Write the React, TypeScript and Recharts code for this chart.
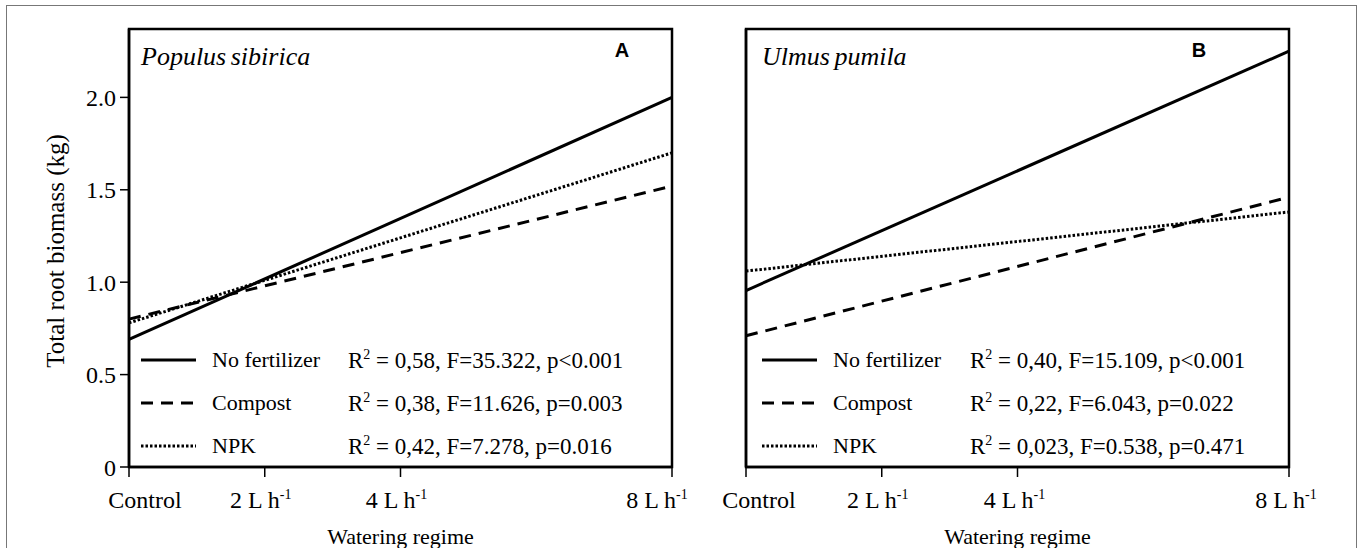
import { LineChart, Line, XAxis, YAxis, ReferenceArea, Label } from 'recharts';

const SERIF = '"Liberation Serif", "Times New Roman", serif';
const SANS = '"Liberation Sans", Arial, sans-serif';

// watering regime in L/h (Control = 0), regression lines drawn at the ends
const waterX = [0, 8];
const xTicks = [0, 2, 4, 8];
const xTickText = ['Control', '2 L h', '4 L h', '8 L h'];
const xTickSup = ['', '-1', '-1', '-1'];
const yTicks = [0, 0.5, 1, 1.5, 2];
const Y_MAX = 2.37;

const seriesNames = ['No fertilizer', 'Compost', 'NPK'];

const populusNoFert = [0.69, 2.0];
const populusCompost = [0.8, 1.52];
const populusNpk = [0.78, 1.7];
const populusR2 = ['0,58', '0,38', '0,42'];
const populusF = ['35.322', '11.626', '7.278'];
const populusP = ['p<0.001', 'p=0.003', 'p=0.016'];

const ulmusNoFert = [0.955, 2.25];
const ulmusCompost = [0.71, 1.46];
const ulmusNpk = [1.06, 1.38];
const ulmusR2 = ['0,40', '0,22', '0,023'];
const ulmusF = ['15.109', '6.043', '0.538'];
const ulmusP = ['p<0.001', 'p=0.022', 'p=0.471'];

const makeRows = (nf: number[], co: number[], npk: number[]) =>
  waterX.map((x, i) => ({ x, noFert: nf[i], compost: co[i], npk: npk[i] }));

const populusData = makeRows(populusNoFert, populusCompost, populusNpk);
const ulmusData = makeRows(ulmusNoFert, ulmusCompost, ulmusNpk);

const W = 740;
const H = 548;
const M = { top: 29, right: 68, bottom: 0, left: 0 };
const Y_W = 129;
const X_H = 81;

const lineStyles = [
  { key: 'noFert', dash: undefined, width: 3 },
  { key: 'compost', dash: '12 8', width: 3 },
  { key: 'npk', dash: '2.5 2', width: 3 },
];

function XTick(props: any) {
  const { x, y, payload, shifts } = props;
  const i = xTicks.indexOf(payload.value);
  return (
    <text x={x + shifts[i]} y={y} dy={29} textAnchor="middle" fontFamily={SERIF} fontSize={24} fill="#000">
      {xTickText[i]}
      {xTickSup[i] && (
        <tspan dy={-9} fontSize={14}>
          {xTickSup[i]}
        </tspan>
      )}
    </text>
  );
}

type PanelProps = {
  left: number;
  data: { x: number; noFert: number; compost: number; npk: number }[];
  title: string;
  letter: string;
  letterX: number;
  r2: string[];
  f: string[];
  p: string[];
  showY: boolean;
  shifts: number[];
  titleDx: number;
  statsDx: number;
};

function Panel({ left, data, title, letter, letterX, r2, f, p, showY, shifts, titleDx, statsDx }: PanelProps) {
  const plotLeft = M.left + Y_W;
  const rows = [360, 403, 446];
  return (
    <div style={{ position: 'absolute', left, top: 0, width: W, height: H }}>
      <LineChart width={W} height={H} data={data} margin={M}>
        <XAxis
          dataKey="x"
          type="number"
          domain={[0, 8]}
          ticks={xTicks}
          height={X_H}
          axisLine={{ stroke: '#000', strokeWidth: 2.5 }}
          tickLine={{ stroke: '#000', strokeWidth: 1.5 }}
          tickSize={10}
          tick={(t: any) => <XTick {...t} shifts={shifts} />}
        >
          <Label
            content={(lp: any) => {
              const vb = lp.viewBox;
              return (
                <text x={vb.x + vb.width / 2} y={vb.y + 77} textAnchor="middle" fontFamily={SERIF} fontSize={22} fill="#000">
                  Watering regime
                </text>
              );
            }}
          />
        </XAxis>
        <YAxis
          type="number"
          domain={[0, Y_MAX]}
          ticks={yTicks}
          width={Y_W}
          axisLine={{ stroke: '#000', strokeWidth: 2.5 }}
          tickLine={{ stroke: '#000', strokeWidth: 1.5 }}
          tickSize={9}
          tickMargin={4}
          tick={showY ? { fontFamily: SERIF, fontSize: 24, fill: '#000' } : false}
          tickFormatter={(v: number) => (v === 0 ? '0' : v.toFixed(1))}
        >
          {showY && (
            <Label
              content={(lp: any) => {
                const vb = lp.viewBox;
                const cx = vb.x + 64;
                const cy = vb.y + vb.height / 2 + 3;
                return (
                  <text
                    x={cx}
                    y={cy}
                    transform={`rotate(-90, ${cx}, ${cy})`}
                    textAnchor="middle"
                    fontFamily={SERIF}
                    fontSize={25}
                    fill="#000"
                  >
                    Total root biomass (kg)
                  </text>
                );
              }}
            />
          )}
        </YAxis>
        <ReferenceArea x1={0} x2={8} y1={0} y2={Y_MAX} fill="none" stroke="#000" strokeWidth={2.5} ifOverflow="visible" />
        {lineStyles.map((s) => (
          <Line
            key={s.key}
            type="linear"
            dataKey={s.key}
            stroke="#000"
            strokeWidth={s.width}
            strokeDasharray={s.dash}
            dot={false}
            activeDot={false}
            isAnimationActive={false}
          />
        ))}
      </LineChart>
      <svg width={W} height={H} style={{ position: 'absolute', left: 0, top: 0, pointerEvents: 'none' }}>
        <text x={plotLeft + titleDx} y={65} fontFamily={SERIF} fontStyle="italic" fontSize={26} wordSpacing={-2} fill="#000">
          {title}
        </text>
        <text x={letterX} y={57} textAnchor="middle" fontFamily={SANS} fontWeight="bold" fontSize={20} fill="#000">
          {letter}
        </text>
        {lineStyles.map((s, i) => (
          <g key={s.key}>
            <line
              x1={plotLeft + titleDx}
              x2={plotLeft + titleDx + 55}
              y1={rows[i]}
              y2={rows[i]}
              stroke="#000"
              strokeWidth={s.width}
              strokeDasharray={s.dash}
            />
            <text x={plotLeft + titleDx + 71} y={rows[i] + 7} fontFamily={SERIF} fontSize={22} fill="#000">
              {seriesNames[i]}
            </text>
            <text x={plotLeft + statsDx} y={rows[i] + 8} fontFamily={SERIF} fontSize={23} fill="#000">
              R
              <tspan dy={-9} fontSize={14}>
                2
              </tspan>
              <tspan dy={9}>{` = ${r2[i]}, F=${f[i]}, ${p[i]}`}</tspan>
            </text>
          </g>
        ))}
      </svg>
    </div>
  );
}

export default function App() {
  return (
    <div style={{ position: 'absolute', left: 0, top: 0, width: 1357, height: 548, overflow: 'hidden', background: '#fff' }}>
      <div
        style={{
          position: 'absolute',
          left: 6,
          top: 5,
          width: 1351,
          height: 600,
          border: '1.5px solid #777',
          boxSizing: 'border-box',
        }}
      />
      <Panel
        left={0}
        data={populusData}
        title="Populus sibirica"
        letter="A"
        letterX={622}
        r2={populusR2}
        f={populusF}
        p={populusP}
        showY
        shifts={[16, -4, -4, -15]}
        titleDx={12}
        statsDx={219}
      />
      <Panel
        left={617}
        data={ulmusData}
        title="Ulmus pumila"
        letter="B"
        letterX={582}
        r2={ulmusR2}
        f={ulmusF}
        p={ulmusP}
        showY={false}
        shifts={[13, -4, -3, -3]}
        titleDx={16}
        statsDx={224}
      />
    </div>
  );
}
